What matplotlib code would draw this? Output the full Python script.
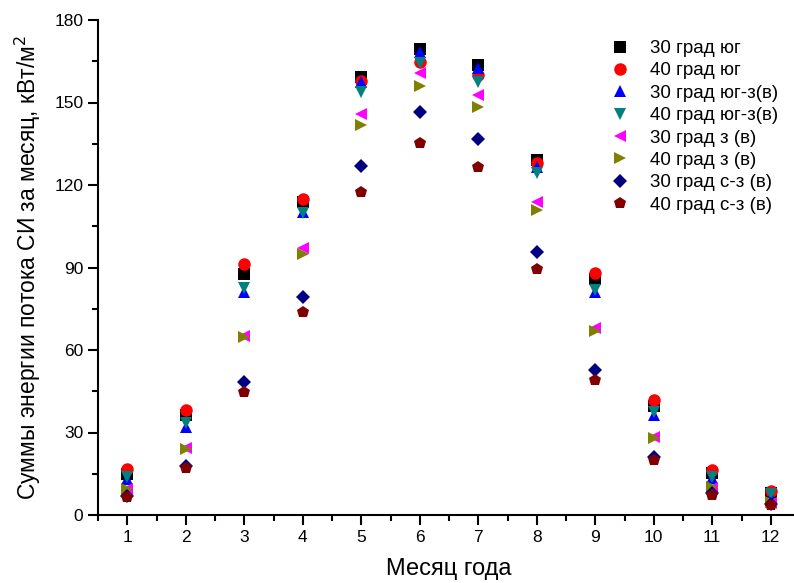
import matplotlib
matplotlib.use('Agg')
import matplotlib.pyplot as plt
from matplotlib.ticker import MultipleLocator

plt.rcParams['font.family'] = ['Liberation Sans', 'DejaVu Sans']

months = [1, 2, 3, 4, 5, 6, 7, 8, 9, 10, 11, 12]

s30_south = [15.0, 36.4, 87.5, 114.0, 159.4, 169.5, 163.6, 129.0, 85.8, 39.6, 15.2, 7.9]
s40_south = [16.7, 38.2, 91.2, 114.8, 158.0, 164.8, 160.0, 127.9, 88.0, 41.8, 16.4, 8.7]
s30_sw = [13.0, 32.0, 81.2, 110.3, 157.6, 168.5, 162.4, 126.4, 81.0, 36.2, 13.4, 6.7]
s40_sw = [13.8, 33.4, 82.7, 110.0, 154.0, 164.2, 157.6, 124.2, 81.8, 37.6, 13.9, 7.6]
s30_w = [9.6, 24.2, 65.2, 97.2, 145.8, 160.8, 152.7, 114.0, 68.0, 28.2, 9.8, 4.5]
s40_w = [9.5, 24.0, 64.6, 94.8, 141.8, 156.0, 148.5, 110.9, 66.9, 28.0, 10.3, 4.8]
s30_nw = [7.0, 17.8, 48.4, 79.4, 127.0, 146.4, 136.6, 95.8, 52.7, 21.0, 8.0, 4.0]
s40_nw = [6.5, 17.0, 44.8, 74.0, 117.6, 135.2, 126.4, 89.3, 49.0, 20.0, 7.3, 3.6]

labels = ['30 град юг', '40 град юг', '30 град юг-з(в)', '40 град юг-з(в)',
          '30 град з (в)', '40 град з (в)', '30 град с-з (в)', '40 град с-з (в)']
series = [s30_south, s40_south, s30_sw, s40_sw, s30_w, s40_w, s30_nw, s40_nw]
markers = ['s', 'o', '^', 'v', '<', '>', 'D', 'p']
colors = ['#000000', '#ff0000', '#0000ff', '#008080', '#ff00ff', '#808000', '#000080', '#800000']
sizes = [8, 9, 9, 9, 9, 9, 7.5, 9]

fig = plt.figure(figsize=(7.94, 5.83), dpi=100)
ax = fig.add_axes([98/794, 1-515/583, 702/794, 495/583])

for y, lab, m, c, ms in zip(series, labels, markers, colors, sizes):
    ax.plot(months, y, linestyle='none', marker=m, color=c, markersize=ms,
            markeredgewidth=0, label=lab)

ax.set_xlim(0.5, 12.5)
ax.set_ylim(0, 180)
ax.xaxis.set_major_locator(MultipleLocator(1))
ax.xaxis.set_minor_locator(MultipleLocator(0.5))
ax.yaxis.set_major_locator(MultipleLocator(30))
ax.yaxis.set_minor_locator(MultipleLocator(15))
ax.spines['top'].set_visible(False)
ax.spines['right'].set_visible(False)
ax.spines['left'].set_linewidth(1.5)
ax.spines['bottom'].set_linewidth(1.5)
ax.tick_params(which='major', direction='out', length=7, width=1.5, labelsize=12.5)
ax.tick_params(which='minor', direction='out', length=4, width=1.5)

ax.set_xlabel('Месяц года', fontsize=17, labelpad=10)
ax.set_ylabel('Суммы энергии потока СИ за месяц, кВт/м$^2$', fontsize=16.5, labelpad=8)

ax.legend(loc='upper right', bbox_to_anchor=(0.99, 0.99), frameon=False, fontsize=13.5,
          handletextpad=0.6, labelspacing=0.28, borderaxespad=0.4)

fig.savefig('out.png', dpi=100)
